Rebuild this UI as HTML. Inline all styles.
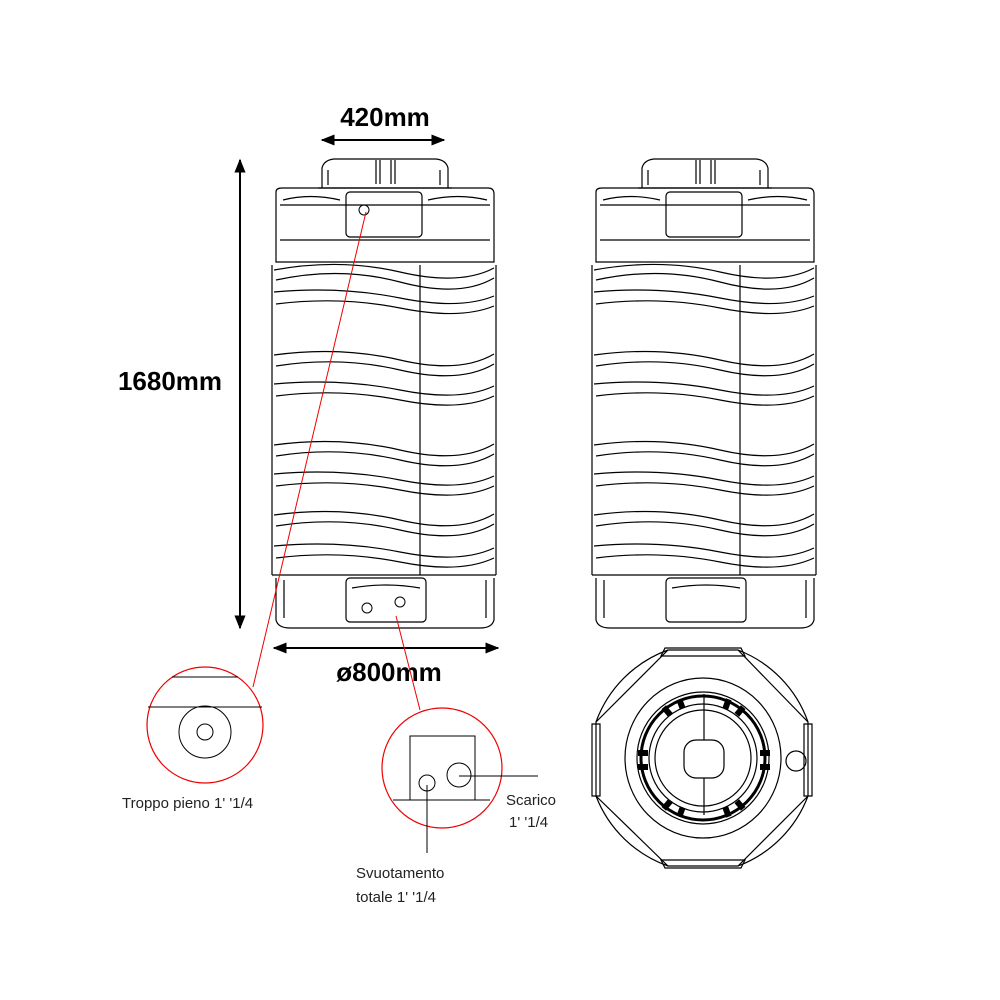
<!DOCTYPE html>
<html><head><meta charset="utf-8"><style>
html,body{margin:0;padding:0;background:#fff}
svg{display:block}
text{font-family:"Liberation Sans",sans-serif}
</style></head><body>
<svg width="1000" height="1000" viewBox="0 0 1000 1000" xmlns="http://www.w3.org/2000/svg">
<defs>
<marker id="ah" viewBox="0 0 10 10" refX="9" refY="5" markerWidth="7" markerHeight="7" orient="auto-start-reverse"><path d="M0,1 L10,5 L0,9 z" fill="#000"/></marker>
<g id="tank" fill="none" stroke="#000" stroke-width="1.2">
  <path d="M322,188 L322,168 Q324,160 334,159 L436,159 Q446,160 448,168 L448,188"/>
  <path d="M328,185 L328,170 M440,185 L440,170 M376,160 L376,184 M380,160 L380,184 M391,160 L391,184 M395,160 L395,184"/>
  <path d="M318,188 L452,188" />
  <path d="M276,192 Q276,188 282,188 L488,188 Q494,188 494,194 L494,262 L276,262 Z"/>
  <path d="M280,205 L490,205 M280,240 L490,240"/>
  <rect x="346" y="192" width="76" height="45" rx="4"/>
  <path d="M283,200 Q310,193 340,200 M428,200 Q458,193 487,200"/>
  <path d="M272,265 L272,575 M496,265 L496,575"/>
  <path d="M274,270 Q340,258 400,272 T494,268"/>
  <path d="M276,280 Q340,266 400,282 T494,278"/>
  <path d="M274,292 Q340,286 400,298 T494,296"/>
  <path d="M276,304 Q340,296 400,308 T494,306"/>
  <path d="M274,355 Q340,346 400,360 T494,354"/>
  <path d="M276,366 Q340,356 400,370 T494,364"/>
  <path d="M274,384 Q340,378 400,390 T494,386"/>
  <path d="M276,396 Q340,388 400,400 T494,396"/>
  <path d="M274,445 Q340,436 400,450 T494,444"/>
  <path d="M276,456 Q340,446 400,460 T494,454"/>
  <path d="M274,474 Q340,468 400,480 T494,476"/>
  <path d="M276,486 Q340,478 400,490 T494,486"/>
  <path d="M274,515 Q340,506 400,520 T494,514"/>
  <path d="M276,526 Q340,516 400,530 T494,524"/>
  <path d="M274,546 Q340,540 400,552 T494,548"/>
  <path d="M276,558 Q340,550 400,562 T494,558"/>
  <path d="M420,265 L420,575"/>
  <path d="M272,575 L496,575"/>
  <path d="M276,578 L276,620 Q278,628 290,628 L480,628 Q492,628 494,620 L494,578"/>
  <path d="M284,580 L284,618 M486,580 L486,618"/>
  <rect x="346" y="578" width="80" height="44" rx="4"/>
  <path d="M352,588 Q386,582 420,588"/>
</g>
</defs>

<use href="#tank"/>
<use href="#tank" transform="translate(320,0)"/>
<circle cx="364" cy="210" r="5" fill="none" stroke="#000"/>
<circle cx="367" cy="608" r="5" fill="none" stroke="#000"/>
<circle cx="400" cy="602" r="5" fill="none" stroke="#000"/>

<line x1="322" y1="140" x2="444" y2="140" stroke="#000" stroke-width="2" marker-start="url(#ah)" marker-end="url(#ah)"/>
<text x="385" y="126" font-size="26" font-weight="bold" text-anchor="middle">420mm</text>
<line x1="240" y1="160" x2="240" y2="628" stroke="#000" stroke-width="2" marker-start="url(#ah)" marker-end="url(#ah)"/>
<text x="170" y="390" font-size="26" font-weight="bold" text-anchor="middle">1680mm</text>
<line x1="274" y1="648" x2="498" y2="648" stroke="#000" stroke-width="2" marker-start="url(#ah)" marker-end="url(#ah)"/>
<text x="389" y="681" font-size="26" font-weight="bold" text-anchor="middle">ø800mm</text>

<line x1="253" y1="687" x2="366" y2="212" stroke="#e00" stroke-width="1"/>
<line x1="420" y1="710" x2="396" y2="616" stroke="#e00" stroke-width="1"/>

<circle cx="205" cy="725" r="58" fill="none" stroke="#e00" stroke-width="1.2"/>
<line x1="172" y1="677" x2="238" y2="677" stroke="#000"/>
<line x1="148" y1="707" x2="262" y2="707" stroke="#000"/>
<circle cx="205" cy="732" r="26" fill="none" stroke="#000"/>
<circle cx="205" cy="732" r="8" fill="none" stroke="#000"/>
<text x="122" y="808" font-size="15" fill="#222">Troppo pieno 1' '1/4</text>

<circle cx="442" cy="768" r="60" fill="none" stroke="#e00" stroke-width="1.2"/>
<path d="M410,800 L410,736 L475,736 L475,800" fill="none" stroke="#000"/>
<line x1="393" y1="800" x2="490" y2="800" stroke="#000"/>
<circle cx="427" cy="783" r="8" fill="none" stroke="#000"/>
<circle cx="459" cy="775" r="12" fill="none" stroke="#000"/>
<line x1="459" y1="776" x2="538" y2="776" stroke="#000"/>
<line x1="427" y1="785" x2="427" y2="853" stroke="#000"/>
<text x="506" y="805" font-size="15" fill="#222">Scarico</text>
<text x="509" y="827" font-size="15" fill="#222">1' '1/4</text>
<text x="356" y="878" font-size="15" fill="#222">Svuotamento</text>
<text x="356" y="902" font-size="15" fill="#222">totale 1' '1/4</text>

<g fill="none" stroke="#000" stroke-width="1.2">
  <path d="M668,650 L738,650 L808,722 L808,796 L738,866 L668,866 L596,796 L596,722 Z"/>
  <path d="M665,648 L741,648 L745,656 L661,656 Z"/>
  <path d="M665,868 L741,868 L745,860 L661,860 Z"/>
  <path d="M592,724 L600,724 L600,796 L592,796 Z"/>
  <path d="M812,724 L804,724 L804,796 L812,796 Z"/>
  <path d="M668,650 A120,120 0 0,0 596,722 M738,650 A120,120 0 0,1 808,722 M596,796 A120,120 0 0,0 668,866 M808,796 A120,120 0 0,1 738,866"/>
  <ellipse cx="703" cy="758" rx="78" ry="80"/>
  <circle cx="703" cy="758" r="66"/>
  <circle cx="703" cy="758" r="62" stroke-width="3"/>
  <circle cx="703" cy="758" r="54"/>
  <circle cx="703" cy="758" r="48"/>
  <rect x="684" y="740" width="40" height="38" rx="12"/>
  <line x1="704" y1="694" x2="704" y2="740"/>
  <line x1="704" y1="778" x2="704" y2="815"/>
  <circle cx="796" cy="761" r="10"/>
</g>
<g fill="#000">
  <rect x="664" y="706" width="6" height="10" transform="rotate(-40 667 711)"/>
  <rect x="678" y="699" width="6" height="10" transform="rotate(-20 681 704)"/>
  <rect x="724" y="699" width="6" height="10" transform="rotate(20 727 704)"/>
  <rect x="737" y="706" width="6" height="10" transform="rotate(40 740 711)"/>
  <rect x="638" y="750" width="10" height="6"/>
  <rect x="638" y="764" width="10" height="6"/>
  <rect x="760" y="750" width="10" height="6"/>
  <rect x="760" y="764" width="10" height="6"/>
  <rect x="664" y="800" width="6" height="10" transform="rotate(40 667 805)"/>
  <rect x="678" y="807" width="6" height="10" transform="rotate(20 681 812)"/>
  <rect x="724" y="807" width="6" height="10" transform="rotate(-20 727 812)"/>
  <rect x="737" y="800" width="6" height="10" transform="rotate(-40 740 805)"/>
</g>
</svg>
</body></html>
